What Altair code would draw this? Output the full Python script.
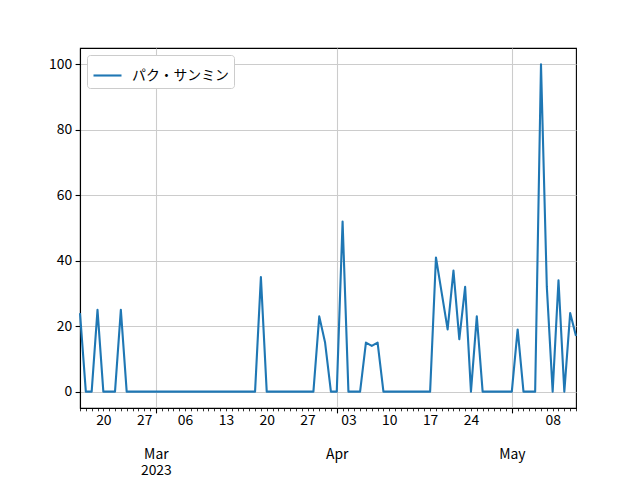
import altair as alt
import pandas as pd

# daily values, 2023-02-16 .. 2023-05-12
start_date = "2023-02-16"
end_date = "2023-05-12"
feb_vals = [24, 0, 0, 25, 0, 0, 0, 25, 0, 0, 0, 0, 0]                      # Feb 16-28
mar_vals = [0] * 18 + [35] + [0] * 9 + [23, 15, 0]                           # Mar 1-31
apr_vals = [0, 52, 0, 0, 0, 15, 14, 15] + [0] * 9 + [41, 30, 19, 37, 16, 32, 0, 23] + [0] * 5  # Apr 1-30
may_vals = [0, 19, 0, 0, 0, 100, 32, 0, 34, 0, 24, 17]                      # May 1-12
series_name = "パク・サンミン"

values = feb_vals + mar_vals + apr_vals + may_vals
dates = pd.date_range(start_date, end_date, freq="D").strftime("%Y-%m-%d").tolist()
df = pd.DataFrame({"date": dates, "value": values, "name": series_name})

FONT = "Noto Sans CJK JP"
FS = 13.9
GRID = "#cccccc"

x_scale = alt.Scale(
    type="utc",
    domain=[alt.DateTime(year=2023, month=2, date=16, utc=True),
            alt.DateTime(year=2023, month=5, date=12, utc=True)],
    nice=False,
)

day_axis = alt.Axis(
    orient="bottom",
    tickCount={"interval": "day", "step": 1},
    tickSize=2.8,
    tickWidth=0.8,
    labelPadding=3,
    labelExpr="utcday(datum.value)==1 && utcdate(datum.value)!=1 ? utcFormat(datum.value,'%d') : ''",
    grid=False,
    labelOverlap=False,
    labelFlush=False,
    labelBound=False,
    title=None,
)

month_axis = alt.Axis(
    orient="bottom",
    tickCount={"interval": "month", "step": 1},
    tickSize=4.9,
    labelPadding=35,
    labelExpr="utcmonth(datum.value)==2 ? ['Mar','2023'] : utcFormat(datum.value,'%b')",
    grid=True,
    gridColor=GRID,
    gridWidth=1.1,
    labelOverlap=False,
    labelFlush=False,
    labelBound=False,
    labelLineHeight=16,
    title=None,
)

line = alt.Chart(df).mark_line(strokeWidth=2.1, strokeJoin="round").encode(
    x=alt.X("date:T", scale=x_scale, axis=day_axis),
    y=alt.Y(
        "value:Q",
        scale=alt.Scale(domain=[-5, 105], nice=False, zero=False),
        axis=alt.Axis(values=[0, 20, 40, 60, 80, 100], title=None, tickSize=4.9,
                      labelPadding=3.5, grid=True, gridColor=GRID, gridWidth=1.1),
    ),
    color=alt.Color(
        "name:N",
        scale=alt.Scale(range=["#1f77b4"]),
        legend=alt.Legend(
            title=None, orient="top-left", offset=7, padding=5,
            strokeColor="#cccccc", cornerRadius=3, fillColor="white",
            symbolType="stroke", symbolSize=784, symbolStrokeWidth=2.1,
            labelOffset=9, labelFontSize=FS, labelFont=FONT, labelColor="black",
        ),
    ),
)

months = alt.Chart(df).mark_rule(opacity=0).encode(
    x=alt.X("date:T", scale=x_scale, axis=month_axis),
)

chart = (
    alt.layer(months, line)
    .resolve_axis(x="independent")
    .properties(
        width=496,
        height=360,
        autosize=alt.AutoSizeParams(type="none"),
        padding={"left": 72, "top": 40, "right": 50, "bottom": 72},
    )
    .configure_axis(
        labelFont=FONT, labelFontSize=FS, labelColor="black",
        tickColor="black", domainColor="black", domainWidth=1.1, tickWidth=1.1,
    )
    .configure_view(stroke="black", strokeWidth=1.1)
)

chart.save("out.html", embed_options={"renderer": "svg", "actions": False})
